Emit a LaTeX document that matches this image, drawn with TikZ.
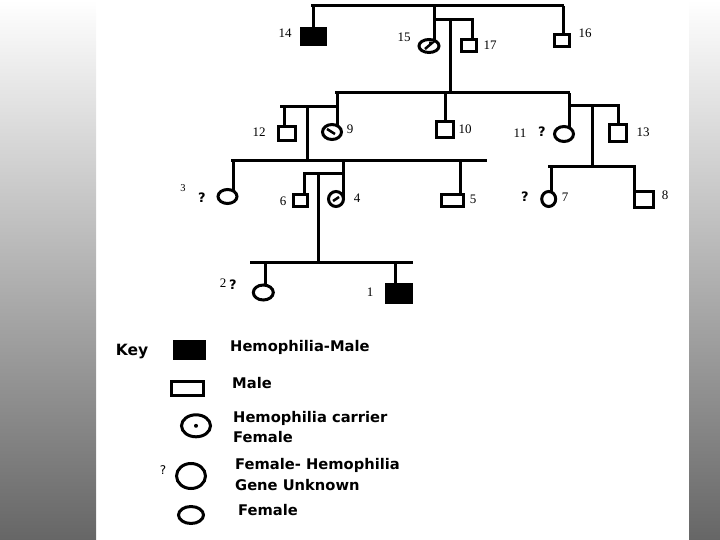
\documentclass[tikz,border=0pt]{standalone}
\usepackage{fontspec}
\newfontfamily\labf{Liberation Serif}
\newfontfamily\keyf{DejaVu Sans}
\usetikzlibrary{shapes.geometric}
\pgfdeclarelayer{bg}
\pgfsetlayers{bg,main}
\tikzset{
 ln/.style={line width=3pt},
 sq/.style={draw, line width=3pt, rectangle, inner sep=0pt, fill=white},
 sqf/.style={sq, fill=black},
 ov/.style={draw, line width=3pt, ellipse, inner sep=0pt, fill=white},
 num/.style={font=\labf\fontsize{13}{13}\selectfont, inner sep=0pt},
 qm/.style={font=\keyf\bfseries\fontsize{13}{13}\selectfont, inner sep=0pt},
 keytxt/.style={font=\keyf\bfseries\fontsize{14.7}{15}\selectfont, inner sep=0pt, anchor=west},
 mk/.style={line width=2.5pt},
 strip/.style={top color=white, bottom color=black!60},
}
\begin{document}
\begin{tikzpicture}[x=1pt,y=-1pt]
\useasboundingbox (0,0) rectangle (720,540);
% individuals
\node[sqf, minimum width=24, minimum height=16] (n14) at (313.5,36.5) {};
\node[ov, minimum width=20, minimum height=13] (n15) at (429,46) {};
\node[sq, minimum width=15, minimum height=12] (n17) at (469,45.5) {};
\node[sq, minimum width=15, minimum height=12] (n16) at (562,40.5) {};
\node[sq, minimum width=17, minimum height=14] (n12) at (287,133.5) {};
\node[ov, minimum width=19, minimum height=15] (n9) at (332,132) {};
\node[sq, minimum width=17, minimum height=16] (n10) at (445,129.5) {};
\node[ov, minimum width=19, minimum height=15] (n11) at (564,134) {};
\node[sq, minimum width=17, minimum height=17] (n13) at (618,133.3) {};
\node[ov, minimum width=19, minimum height=14] (n3) at (227.5,196.5) {};
\node[sq, minimum width=14, minimum height=12] (n6) at (300,200.8) {};
\node[ov, minimum width=15, minimum height=15] (n4) at (336,199) {};
\node[sq, minimum width=22, minimum height=12] (n5) at (452.5,200.8) {};
\node[ov, minimum width=14, minimum height=15] (n7) at (548.7,199) {};
\node[sq, minimum width=19, minimum height=16] (n8) at (644,199.5) {};
\node[ov, minimum width=20, minimum height=15] (n2) at (263.3,292.5) {};
\node[sqf, minimum width=25, minimum height=18] (n1) at (399,293.7) {};
% carrier marks
\draw[mk] ([shift={(-4,3)}]n15.center) -- ([shift={(3,-3)}]n15.center) -- ++(-3,0);
\draw[mk] ([shift={(-5,-3)}]n9.center) -- ([shift={(3,2)}]n9.center);
\draw[mk] ([shift={(-3,2)}]n4.center) -- ([shift={(3,-2)}]n4.center);
% junctions
\coordinate (tL) at (311,6); \coordinate (tR) at (564,6);
\coordinate (d14) at (313,6); \coordinate (d15) at (434,6); \coordinate (d16) at (563,6);
\coordinate (b1L) at (434,20); \coordinate (b1R) at (472,20); \coordinate (c1) at (450,20);
\coordinate (g2L) at (335,93); \coordinate (g2R) at (570,93); \coordinate (c1b) at (450,93);
\coordinate (d9) at (337,93); \coordinate (d10) at (445,93); \coordinate (d11) at (569,93);
\coordinate (b2L) at (280,107); \coordinate (b2R) at (337,107); \coordinate (d12) at (284,107); \coordinate (c2) at (307,107);
\coordinate (b3L) at (569,106); \coordinate (b3R) at (618,106); \coordinate (c3) at (592,106);
\coordinate (g3RL) at (548,167); \coordinate (g3RR) at (634,167); \coordinate (c3b) at (592,167); \coordinate (d7) at (551,167);
\coordinate (g3L) at (231,161); \coordinate (g3R) at (487,161); \coordinate (c2b) at (307,161);
\coordinate (d3) at (233,161); \coordinate (d4) at (343,161); \coordinate (d5) at (460,161);
\coordinate (b4L) at (303,174); \coordinate (b4R) at (343,174); \coordinate (d6) at (304,174); \coordinate (c4) at (318,174);
\coordinate (g4L) at (250,262); \coordinate (g4R) at (413,262); \coordinate (c4b) at (318,262);
\coordinate (d2) at (265,262); \coordinate (d1) at (395,262);
\begin{pgfonlayer}{bg}
\shade[strip] (0,0) rectangle (96,540);
\shade[strip] (689,0) rectangle (720,540);
\draw[ln] (tL) -- (tR);
\draw[ln] (d14) -- (d14 |- n14.center);
\draw[ln] (d15) -- (d15 |- n15.center);
\draw[ln] (d16) -- (d16 |- n16.center);
\draw[ln] (b1L) -- (b1R) -- (b1R |- n17.center);
\draw[ln] (c1) -- (c1b);
\draw[ln] (g2L) -- (g2R);
\draw[ln] (d9) -- (d9 |- n9.center);
\draw[ln] (d10) -- (d10 |- n10.center);
\draw[ln] (d11) -- (d11 |- n11.center);
\draw[ln] (b2L) -- (b2R);
\draw[ln] (d12) -- (d12 |- n12.center);
\draw[ln] (c2) -- (c2b);
\draw[ln] (b3L) -- (b3R) -- (b3R |- n13.center);
\draw[ln] (c3) -- (c3b);
\draw[ln] (g3RL) -- (g3RR) -- (g3RR |- n8.center);
\draw[ln] (d7) -- (d7 |- n7.center);
\draw[ln] (g3L) -- (g3R);
\draw[ln] (d3) -- (d3 |- n3.center);
\draw[ln] (d4) -- (d4 |- n4.center);
\draw[ln] (d5) -- (d5 |- n5.center);
\draw[ln] (b4L) -- (b4R);
\draw[ln] (d6) -- (d6 |- n6.center);
\draw[ln] (c4) -- (c4b);
\draw[ln] (g4L) -- (g4R);
\draw[ln] (d2) -- (d2 |- n2.center);
\draw[ln] (d1) -- (d1 |- n1.center);
\end{pgfonlayer}
% labels
\node[num] (l14) at (285,33) {14};
\node[num] (l15) at (404,37) {15};
\node[num] (l17) at (490,45) {17};
\node[num] (l16) at (585,33) {16};
\node[num] (l12) at (259,132) {12};
\node[num] (l9) at (350,129) {9};
\node[num] (l10) at (465,129) {10};
\node[num] (l11) at (520,133) {11};
\node[qm] (q11) at (542,132) {?};
\node[num] (l13) at (643,132) {13};
\node[num, font=\labf\fontsize{10.5}{10.5}\selectfont] (l3) at (183,188) {3};
\node[qm] (q3) at (202,198) {?};
\node[num] (l6) at (283,201) {6};
\node[num] (l4) at (357,198) {4};
\node[num] (l5) at (473,199) {5};
\node[qm] (q7) at (525,197) {?};
\node[num] (l7) at (565,197) {7};
\node[num] (l8) at (665,195) {8};
\node[num] (l2) at (223,283) {2};
\node[qm] (q2) at (233,285) {?};
\node[num] (l1) at (370,292) {1};
% key
\node[font=\keyf\bfseries\fontsize{15.5}{15.5}\selectfont, inner sep=0pt] (key) at (132,352) {Key};
\node[sqf, minimum width=30, minimum height=17] (kfill) at (189.5,350) {};
\node[keytxt] (kt1) at (230,347) {Hemophilia-Male};
\node[sq, minimum width=32, minimum height=14] (kmale) at (187.5,388.5) {};
\node[keytxt] (kt2) at (232,383) {Male};
\node[ov, minimum width=29, minimum height=22] (kcar) at (196,425.8) {};
\fill (kcar.center) circle (2);
\node[keytxt] (kt3) at (233,418) {Hemophilia carrier};
\node[keytxt] (kt3b) at (233,437) {Female};
\node[qm, font=\keyf\fontsize{12}{12}\selectfont] (kq) at (163,470) {?};
\node[ov, minimum width=29, minimum height=25] (kunk) at (191,476) {};
\node[keytxt] (kt4) at (235,465) {Female- Hemophilia};
\node[keytxt] (kt4b) at (235,485) {Gene Unknown};
\node[ov, minimum width=25, minimum height=17] (kfem) at (191,515) {};
\node[keytxt] (kt5) at (238,510) {Female};
\end{tikzpicture}
\end{document}
